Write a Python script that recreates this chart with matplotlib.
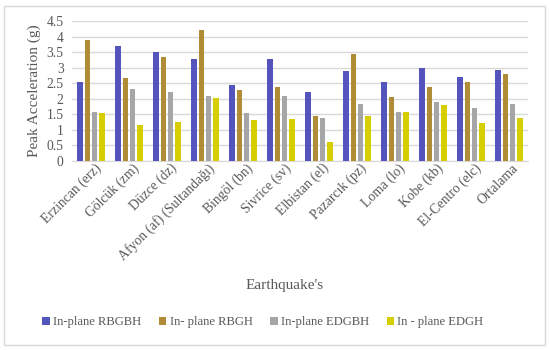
import numpy as np
import matplotlib.pyplot as plt
from matplotlib.patches import Rectangle

plt.rcParams['font.family'] = ['Liberation Serif', 'DejaVu Serif']

# Peak accelerations
sites = ['Erzincan (erz)', 'Gölcük (zm)', 'Düzce (dz)', 'Afyon (af) (Sultandağı)',
         'Bingöl (bn)', 'Sivrice (sv)', 'Elbistan (el)', 'Pazarcık (pz)',
         'Loma (lo)', 'Kobe (kb)', 'El-Centro (elc)', 'Ortalama']
rbgbh = [2.53, 3.68, 3.49, 3.29, 2.43, 3.27, 2.20, 2.90, 2.52, 3.00, 2.70, 2.91]
rbgh = [3.89, 2.66, 3.34, 4.21, 2.27, 2.38, 1.44, 3.44, 2.05, 2.38, 2.53, 2.78]
edgbh = [1.58, 2.31, 2.20, 2.08, 1.53, 2.08, 1.38, 1.82, 1.57, 1.88, 1.70, 1.84]
edgh = [1.54, 1.15, 1.24, 2.01, 1.30, 1.33, 0.60, 1.44, 1.57, 1.79, 1.21, 1.39]

series = [rbgbh, rbgh, edgbh, edgh]
labels = ['In-plane RBGBH', 'In- plane RBGH', 'In-plane EDGBH', 'In - plane EDGH']
colors = ['#5454BC', '#B08C36', '#A6A6A6', '#D6CE00']

fig = plt.figure(figsize=(5.5, 3.5), dpi=100)
ax = fig.add_axes([72/550, 1 - 160.7/350, 456/550, 139.7/350])

x = np.arange(len(sites))
step = 0.19
width = 0.15
for i, (vals, lab, col) in enumerate(zip(series, labels, colors)):
    ax.bar(x + (i - 1.5) * step, vals, width, color=col, label=lab, zorder=3)

ax.set_xlim(-0.5, len(sites) - 0.5)
ax.set_ylim(0, 4.5)
ax.set_yticks(np.arange(0, 4.51, 0.5))
ax.set_yticklabels(['0', '0.5', '1', '1.5', '2', '2.5', '3', '3.5', '4', '4.5'])
ax.grid(axis='y', color='#D9D9D9', linewidth=1, zorder=0)
for s in ['top', 'right', 'left']:
    ax.spines[s].set_visible(False)
ax.spines['bottom'].set_color('#D9D9D9')
ax.tick_params(axis='both', length=0, colors='#595959', labelsize=9.8)
ax.tick_params(axis='x', pad=0.5)
ax.tick_params(axis='y', pad=6)
ax.set_xticks(x + 0.08)
ax.set_xticklabels(sites, rotation=45, ha='right', rotation_mode='anchor')

ax.set_ylabel('Peak Acceleration (g)', fontsize=11, color='#595959', labelpad=4)
fig.text(0.518, 1 - 285/350, "Earthquake's", ha='center', va='center',
         fontsize=11, color='#595959')

fig.legend(loc='center', bbox_to_anchor=(0.478, 1 - 322/350), ncol=4, frameon=False,
           fontsize=9.1, labelcolor='#595959', handlelength=0.6, handleheight=0.6,
           handletextpad=0.25, columnspacing=1.4)

fig.patches.append(Rectangle((4/550, 5/350), 541/550, 339/350, transform=fig.transFigure,
                             fill=False, edgecolor='#D9D9D9', linewidth=1))

fig.savefig('out.png', dpi=100)
